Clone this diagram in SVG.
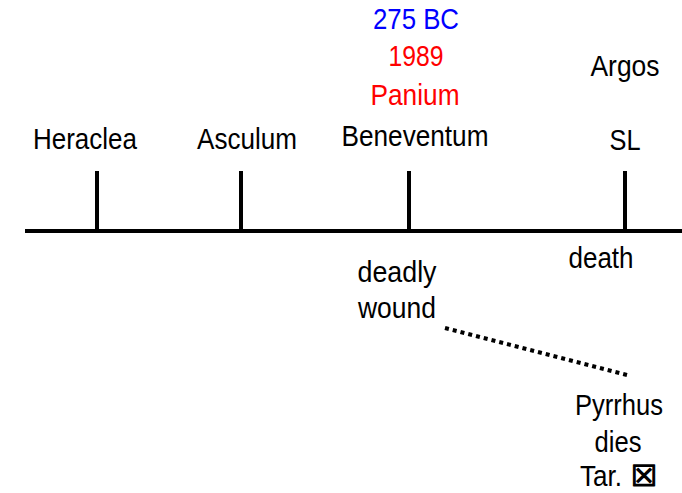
<svg xmlns="http://www.w3.org/2000/svg" width="682" height="493" viewBox="0 0 682 493">
<style>
text{font-family:"Liberation Sans",Arial,"DejaVu Sans",sans-serif;font-size:30px;text-anchor:middle;fill:#000}
.blue{fill:#0000ff}
.red{fill:#ff0000}
.sym{font-family:"DejaVu Sans",sans-serif;font-size:29px;stroke:#000;stroke-width:1.2}
.tick{stroke:#000;stroke-width:4}
.axis{stroke:#000;stroke-width:4}
.dots{stroke:#000;stroke-width:4;stroke-dasharray:4 4;fill:none}
</style>
<rect width="682" height="493" fill="#fff"/>
<g id="connectors">
<line class="axis" x1="25" y1="231" x2="682" y2="231"/>
<line class="dots" x1="445" y1="328" x2="627" y2="375"/>
</g>
<g id="heraclea">
<line class="tick" x1="97" y1="171" x2="97" y2="231"/>
<text x="85" y="149" textLength="104" lengthAdjust="spacingAndGlyphs">Heraclea</text>
</g>
<g id="asculum">
<line class="tick" x1="241" y1="171" x2="241" y2="231"/>
<text x="247" y="149" textLength="100" lengthAdjust="spacingAndGlyphs">Asculum</text>
</g>
<g id="beneventum">
<line class="tick" x1="409" y1="171" x2="409" y2="231"/>
<text class="blue" x="416" y="29" textLength="86" lengthAdjust="spacingAndGlyphs">275 BC</text>
<text class="red" x="416" y="66" textLength="55" lengthAdjust="spacingAndGlyphs">1989</text>
<text class="red" x="415" y="105" textLength="89" lengthAdjust="spacingAndGlyphs">Panium</text>
<text x="415" y="146" textLength="147" lengthAdjust="spacingAndGlyphs">Beneventum</text>
</g>
<g id="argos">
<line class="tick" x1="625" y1="171" x2="625" y2="231"/>
<text x="625" y="76" textLength="69" lengthAdjust="spacingAndGlyphs">Argos</text>
<text x="625" y="150" textLength="31" lengthAdjust="spacingAndGlyphs">SL</text>
</g>
<g id="deadly-wound">
<text x="397" y="282" textLength="79" lengthAdjust="spacingAndGlyphs">deadly</text>
<text x="397" y="318" textLength="78" lengthAdjust="spacingAndGlyphs">wound</text>
</g>
<g id="death">
<text x="601" y="268" textLength="65" lengthAdjust="spacingAndGlyphs">death</text>
</g>
<g id="pyrrhus-dies">
<text x="619" y="415" textLength="88" lengthAdjust="spacingAndGlyphs">Pyrrhus</text>
<text x="618" y="452" textLength="47" lengthAdjust="spacingAndGlyphs">dies</text>
<text x="601" y="486" textLength="42" lengthAdjust="spacingAndGlyphs">Tar.</text>
<text class="sym" x="644" y="486">☒</text>
</g>
</svg>
